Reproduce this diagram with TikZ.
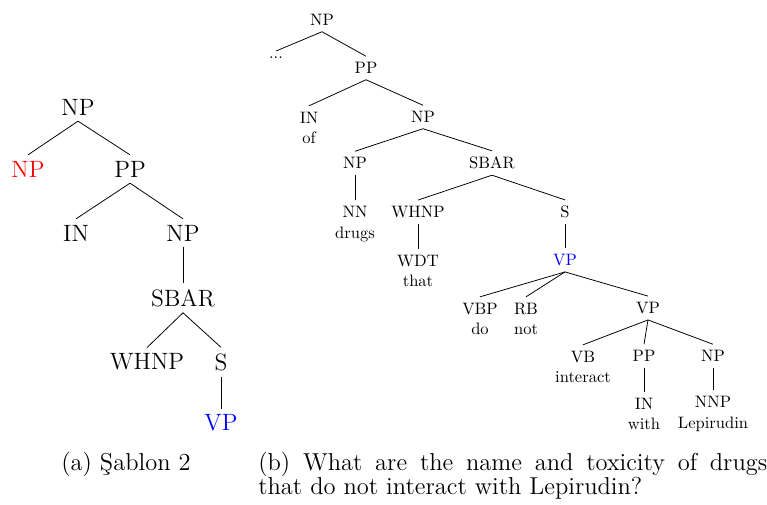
\documentclass[tikz,border=0pt]{standalone}
\usepackage{fontspec}
\begin{document}
\begin{tikzpicture}[x=0.58pt,y=-0.58pt,
  lt/.style={font=\fontsize{13.7}{16}\selectfont},
  rt/.style={font=\fontsize{9.6}{12}\selectfont,align=center},
  captxt/.style={font=\fontsize{14.2}{14}\selectfont,anchor=base west,inner sep=0pt},
  ed/.style={line width=0.45pt}]
\useasboundingbox (0,0) rectangle (767,504);
% left tree
\node[lt] (a1) at (78,107) {NP};
\node[lt,text=red] (a2) at (28,169) {NP};
\node[lt] (a3) at (130,169) {PP};
\node[lt] (a4) at (76,233) {IN};
\node[lt] (a5) at (183,233) {NP};
\node[lt] (a6) at (183,298) {SBAR};
\node[lt] (a7) at (147,362) {WHNP};
\node[lt] (a8) at (221,362) {S};
\node[lt,text=blue] (a9) at (221,423) {VP};
\foreach \p/\c in {a1/a2,a1/a3,a3/a4,a3/a5,a5/a6,a6/a7,a6/a8,a8/a9}
  \draw[ed] (\p.south) -- (\c.north);
% right tree
\node[rt] (b1) at (322,20) {NP};
\node[rt] (b2) at (276,58) {...};
\node[rt] (b3) at (366,68) {PP};
\node[rt] (b4) at (309,128) {IN\\of};
\node[rt] (b5) at (423,117) {NP};
\node[rt] (b6) at (355,163) {NP};
\node[rt] (b7) at (492,163) {SBAR};
\node[rt] (b8) at (355,224) {NN\\drugs};
\node[rt] (b9) at (418,212) {WHNP};
\node[rt] (b10) at (565,212) {S};
\node[rt] (b11) at (418,271) {WDT\\that};
\node[rt,text=blue] (b12) at (565,260) {VP};
\node[rt] (b13) at (480,319) {VBP\\do};
\node[rt] (b14) at (526,319) {RB\\not};
\node[rt] (b15) at (648,308) {VP};
\node[rt] (b16) at (583,367) {VB\\interact};
\node[rt] (b17) at (644,356) {PP};
\node[rt] (b18) at (713,356) {NP};
\node[rt] (b19) at (644,414) {IN\\with};
\node[rt] (b20) at (713,414) {NNP\\Lepirudin};
\foreach \p/\c in {b1/b2,b1/b3,b3/b4,b3/b5,b5/b6,b5/b7,b6/b8,b7/b9,b7/b10,b9/b11,b10/b12,b12/b13,b12/b14,b12/b15,b15/b16,b15/b17,b15/b18,b17/b19,b18/b20}
  \draw[ed] (\p.south) -- (\c.north);
% captions
\node[captxt] (c1) at (61,470) {(a) Şablon 2};
\node[captxt] (c2) at (258,470) {\makebox[295.2pt][s]{(b) What are the name and toxicity of drugs}};
\node[captxt] (c3) at (258,494) {that do not interact with Lepirudin?};
\end{tikzpicture}
\end{document}
